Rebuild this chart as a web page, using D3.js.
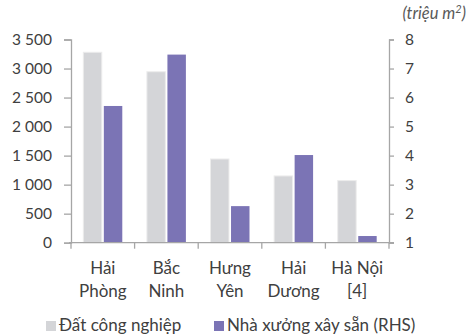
<!DOCTYPE html>
<html>
<head>
<meta charset="utf-8">
<script src="https://cdn.jsdelivr.net/npm/d3@7"></script>
<style>
  html, body { margin: 0; padding: 0; background: #fff; }
  svg { display: block; font-family: Lato, "Open Sans", sans-serif; }
</style>
</head>
<body>
<svg id="chart" width="468" height="334"></svg>
<script>
// Provinces (two-line labels)
const categories = [["Hải", "Phòng"], ["Bắc", "Ninh"], ["Hưng", "Yên"], ["Hải", "Dương"], ["Hà Nội", "[4]"]];
// Industrial land (left axis)
const landValues = [3280, 2945, 1442, 1150, 1070];
// Ready-built factories, million m2 (right axis)
const factoryValues = [5.71, 7.48, 2.26, 4.02, 1.23];
const seriesNames = ["Đất công nghiệp", "Nhà xưởng xây sẵn (RHS)"];
const leftTicks = [0, 500, 1000, 1500, 2000, 2500, 3000, 3500];
const rightTicks = [1, 2, 3, 4, 5, 6, 7, 8];

const colors = ["#d4d5d8", "#7b74b5"];
const axisColor = "#a6a6a6";
const textColor = "#404040";

const svg = d3.select("#chart");
const plotLeft = 71, plotRight = 389, plotTop = 39.5, plotBottom = 242.7;

const keys = categories.map(c => c.join(" "));
const x0 = d3.scaleBand().domain(keys).range([plotLeft, plotRight]).padding(0);
const x1 = d3.scaleBand().domain([0, 1]).range([0, x0.bandwidth()])
  .paddingInner(0.1).paddingOuter(0.6);
const yL = d3.scaleLinear().domain([0, 3500]).range([plotBottom, plotTop]);
const yR = d3.scaleLinear().domain([1, 8]).range([plotBottom, plotTop]);

// Bars
const g = svg.append("g");
keys.forEach((k, i) => {
  g.append("rect")
    .attr("x", x0(k) + x1(0))
    .attr("y", yL(landValues[i]))
    .attr("width", x1.bandwidth())
    .attr("height", yL(0) - yL(landValues[i]))
    .attr("fill", colors[0])
    .attr("stroke", "#ececec")
    .attr("stroke-width", 1);
  g.append("rect")
    .attr("x", x0(k) + x1(1))
    .attr("y", yR(factoryValues[i]))
    .attr("width", x1.bandwidth())
    .attr("height", yR(1) - yR(factoryValues[i]))
    .attr("fill", colors[1]);
});

const fmt = v => d3.format(",")(v).replace(/,/g, " ");

// Left axis
const ax = svg.append("g").attr("transform", `translate(${plotLeft},0)`)
  .call(d3.axisLeft(yL).tickValues(leftTicks).tickFormat(fmt).tickSizeOuter(0).tickSize(7).tickPadding(12));
// Right axis
const axR = svg.append("g").attr("transform", `translate(${plotRight},0)`)
  .call(d3.axisRight(yR).tickValues(rightTicks).tickFormat(d3.format("d")).tickSizeOuter(0).tickSize(5).tickPadding(11));

[ax, axR].forEach(a => {
  a.select(".domain").attr("stroke", axisColor).attr("stroke-width", 1.3);
  a.selectAll(".tick line").attr("stroke", axisColor).attr("stroke-width", 1.3);
  a.selectAll(".tick text").attr("fill", textColor).attr("font-size", 15.5)
    .attr("font-family", "Lato, 'Open Sans', sans-serif");
});

// Bottom axis line and category separators
const bx = svg.append("g");
bx.append("line").attr("x1", plotLeft - 2).attr("x2", plotRight + 5)
  .attr("y1", plotBottom).attr("y2", plotBottom)
  .attr("stroke", axisColor).attr("stroke-width", 1.3);
const seps = keys.map(k => x0(k)).concat([plotRight]);
bx.selectAll("line.sep").data(seps).join("line").attr("class", "sep")
  .attr("x1", d => d).attr("x2", d => d)
  .attr("y1", plotBottom).attr("y2", plotBottom + 6)
  .attr("stroke", axisColor).attr("stroke-width", 1.3);

// Category labels
categories.forEach((c, i) => {
  const cx = x0(keys[i]) + x0.bandwidth() / 2;
  const t = svg.append("text")
    .attr("text-anchor", "middle")
    .attr("fill", textColor)
    .attr("font-size", 17);
  c.forEach((line, j) => {
    t.append("tspan").attr("x", cx).attr("y", 274 + j * 23).text(line);
  });
});

// Unit label
const unit = svg.append("text").attr("x", 466).attr("y", 19)
  .attr("text-anchor", "end").attr("font-style", "italic")
  .attr("font-size", 16.5).attr("fill", "#595959");
unit.append("tspan").text("(triệu m");
unit.append("tspan").attr("font-size", 11).attr("dy", -6).text("2");
unit.append("tspan").attr("dy", 6).text(")");

// Legend
const legendX = [46, 214];
seriesNames.forEach((name, i) => {
  svg.append("rect").attr("x", legendX[i]).attr("y", 321)
    .attr("width", 10).attr("height", 10).attr("fill", colors[i]);
  svg.append("text").attr("x", legendX[i] + 13).attr("y", 331)
    .attr("fill", textColor).attr("font-size", 17).text(name);
});
</script>
</body>
</html>
